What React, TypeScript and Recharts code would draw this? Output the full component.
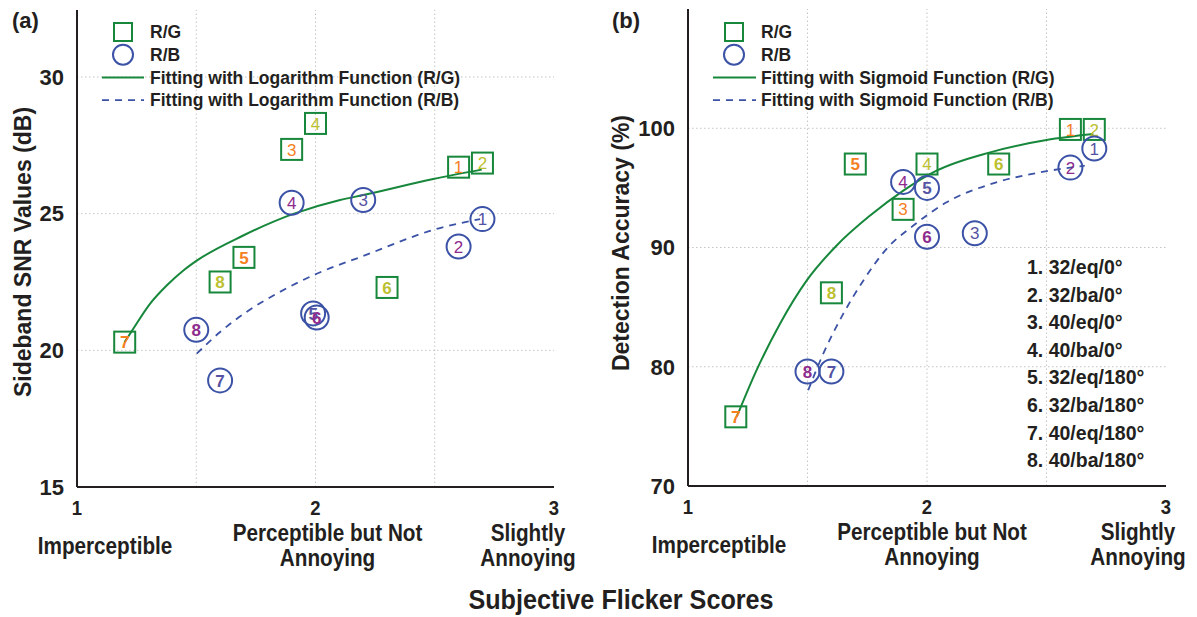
import { ComposedChart, Scatter, Line, XAxis, YAxis, ReferenceLine } from "recharts";

// ---- data ----
const IDS = [1, 2, 3, 4, 5, 6, 7, 8];

// (a) sideband SNR
const RG_SNR_X = [2.6, 2.7, 1.9, 2.0, 1.7, 2.3, 1.2, 1.6];
const RG_SNR_Y = [26.7, 26.85, 27.35, 28.3, 23.4, 22.3, 20.3, 22.5];
const RB_SNR_X = [2.7, 2.6, 2.2, 1.9, 1.99, 2.005, 1.6, 1.5];
const RB_SNR_Y = [24.8, 23.8, 25.5, 25.4, 21.35, 21.2, 18.9, 20.75];
const LOG_RG_X = [1.2, 1.236, 1.306, 1.376, 1.446, 1.502, 1.697, 1.907, 2.103, 2.2, 2.494, 2.697];
const LOG_RG_Y = [20.3, 20.79, 21.7, 22.37, 22.92, 23.28, 24.2, 24.99, 25.5, 25.68, 26.27, 26.61];
const LOG_RB_X = [1.502, 1.6, 1.71, 1.837, 2.005, 2.2, 2.508, 2.69];
const LOG_RB_Y = [19.88, 20.67, 21.4, 22.07, 22.8, 23.45, 24.44, 24.8];

// (b) detection accuracy
const RG_ACC_X = [2.6, 2.7, 1.9, 2.0, 1.7, 2.3, 1.2, 1.6];
const RG_ACC_Y = [99.9, 99.9, 93.2, 97.0, 97.0, 97.0, 75.8, 86.2];
const RB_ACC_X = [2.7, 2.6, 2.2, 1.9, 2.0, 2.0, 1.6, 1.5];
const RB_ACC_Y = [98.3, 96.7, 91.2, 95.5, 95.0, 90.9, 79.6, 79.6];
const SIG_RG_X = [1.204, 1.287, 1.385, 1.497, 1.622, 1.762, 1.901, 2.04, 2.264, 2.5, 2.696];
const SIG_RG_Y = [75.8, 79.71, 83.61, 87.24, 90.17, 92.68, 94.77, 96.44, 97.98, 99.01, 99.51];
const SIG_RB_X = [1.503, 1.566, 1.65, 1.734, 1.831, 1.943, 2.082, 2.29, 2.473, 2.66];
const SIG_RB_Y = [78.03, 81.1, 84.45, 87.24, 89.89, 91.84, 93.79, 95.46, 96.3, 96.86];

const X_TICKS = [1, 2, 3];
const X_MINOR = [1.5, 2.5];
const X_GRID = [1.5, 2, 2.5];
const X_DESC = [["Imperceptible"], ["Perceptible but Not", "Annoying"], ["Slightly", "Annoying"]];
const SNR_TICKS = [15, 20, 25, 30];
const SNR_GRID = [20, 25, 30];
const ACC_TICKS = [70, 80, 90, 100];
const ACC_GRID = [80, 90, 100];

const LEGEND_A = ["R/G", "R/B", "Fitting with Logarithm Function (R/G)", "Fitting with Logarithm Function (R/B)"];
const LEGEND_B = ["R/G", "R/B", "Fitting with Sigmoid Function (R/G)", "Fitting with Sigmoid Function (R/B)"];
const CONDITIONS = [
  "1. 32/eq/0°",
  "2. 32/ba/0°",
  "3. 40/eq/0°",
  "4. 40/ba/0°",
  "5. 32/eq/180°",
  "6. 32/ba/180°",
  "7. 40/eq/180°",
  "8. 40/ba/180°",
];

const W = 1197;
const H = 617;
const GREEN = "#17873b";
const BLUE = "#3b52a6";
const ORANGE = "#f5801f";
const OLIVE = "#bcbf30";
const SLATE = "#5553a3";
const PURPLE = "#8d2a8d";
const INK = "#231f20";
const SANS = "'Liberation Sans', Arial, sans-serif";

const toPoints = (xs: number[], ys: number[]) =>
  xs.map((x, i) => ({ x, y: ys[i], id: IDS[i] }));
const toCurve = (xs: number[], ys: number[]) => xs.map((x, i) => ({ x, y: ys[i] }));

// condensed bold text (Helvetica-narrow look), squeezed horizontally
function NarrowText({ x, y, size, sx, children }: { x: number; y: number; size: number; sx: number; children: any }) {
  return (
    <text
      transform={`translate(${x},${y}) scale(${sx},1)`}
      textAnchor="middle"
      fontFamily={SANS}
      fontWeight={700}
      fontSize={size}
      fill={INK}
    >
      {children}
    </text>
  );
}

function SquareMark(props: any) {
  const { cx, cy, payload } = props;
  if (cx == null || cy == null) return null;
  const s = 21;
  return (
    <g>
      <rect x={cx - s / 2} y={cy - s / 2} width={s} height={s} fill="none" stroke={GREEN} strokeWidth={2} />
      <text
        x={cx}
        y={cy}
        dy="0.36em"
        textAnchor="middle"
        fontFamily={SANS}
        fontSize={17}
        fontWeight={payload.id >= 5 ? 700 : 400}
        fill={payload.id % 2 ? ORANGE : OLIVE}
      >
        {payload.id}
      </text>
    </g>
  );
}

function CircleMark(props: any) {
  const { cx, cy, payload } = props;
  if (cx == null || cy == null) return null;
  return (
    <g>
      <circle cx={cx} cy={cy} r={12} fill="none" stroke={BLUE} strokeWidth={2} />
      <text
        x={cx}
        y={cy}
        dy="0.36em"
        textAnchor="middle"
        fontFamily={SANS}
        fontSize={17}
        fontWeight={payload.id >= 5 ? 700 : 400}
        fill={payload.id % 2 ? SLATE : PURPLE}
      >
        {payload.id}
      </text>
    </g>
  );
}

function XTick(props: any) {
  const { x, y, payload, offsets } = props;
  const i = X_TICKS.indexOf(payload.value);
  const lines = X_DESC[i] || [];
  const dx = offsets[i] || 0;
  const single = lines.length === 1;
  return (
    <g>
      <NarrowText x={x} y={y + 28} size={21} sx={0.88}>
        {payload.value}
      </NarrowText>
      {lines.map((t: string, k: number) => (
        <NarrowText key={k} x={x + dx} y={y + (single ? 67 : 54 + k * 25)} size={23} sx={0.9}>
          {t}
        </NarrowText>
      ))}
    </g>
  );
}

interface PanelCfg {
  left: number;
  width: number;
  top: number;
  right: number;
  yAxisW: number;
  yDomain: [number, number];
  yTicks: number[];
  yGrid: number[];
  descOffsets: number[];
  rg: { x: number; y: number; id: number }[];
  rb: { x: number; y: number; id: number }[];
  fitRG: { x: number; y: number }[];
  fitRB: { x: number; y: number }[];
}

const frame = { stroke: INK, strokeWidth: 2 };

function Panel({ cfg }: { cfg: PanelCfg }) {
  const xAxisH = H - 487 + (cfg.top === 9 ? 1 : 0);
  return (
    <div style={{ position: "absolute", left: cfg.left, top: 0, width: cfg.width, height: H }}>
      <ComposedChart width={cfg.width} height={H} margin={{ top: cfg.top, right: cfg.right, bottom: 0, left: 0 }}>
        <XAxis
          xAxisId="b"
          type="number"
          dataKey="x"
          domain={[1, 3]}
          ticks={X_TICKS}
          interval={0}
          height={xAxisH}
          axisLine={frame}
          tickLine={false}
          tickSize={0}
          tickMargin={0}
          tick={(p: any) => <XTick {...p} offsets={cfg.descOffsets} />}
        />
        <XAxis xAxisId="bMaj" type="number" dataKey="x" domain={[1, 3]} ticks={[2]} mirror height={0}
          axisLine={false} tick={false} tickSize={10} tickLine={frame} />
        <XAxis xAxisId="bMin" type="number" dataKey="x" domain={[1, 3]} ticks={X_MINOR} mirror height={0}
          axisLine={false} tick={false} tickSize={5} tickLine={{ stroke: INK, strokeWidth: 1.5 }} />
        <XAxis xAxisId="t" orientation="top" type="number" dataKey="x" domain={[1, 3]} ticks={[2]} mirror height={0}
          axisLine={frame} tick={false} tickSize={9} tickLine={frame} />
        <YAxis
          yAxisId="l"
          type="number"
          dataKey="y"
          domain={cfg.yDomain}
          ticks={cfg.yTicks}
          interval={0}
          width={cfg.yAxisW}
          axisLine={frame}
          tickLine={false}
          tickMargin={7}
          tick={{ fontSize: 22, fontWeight: 700, fill: INK, fontFamily: SANS }}
        />
        <YAxis yAxisId="lm" type="number" dataKey="y" domain={cfg.yDomain} ticks={cfg.yGrid} mirror width={0}
          axisLine={false} tick={false} tickSize={9} tickLine={frame} />
        <YAxis yAxisId="r" orientation="right" type="number" dataKey="y" domain={cfg.yDomain} ticks={cfg.yGrid} mirror width={0}
          axisLine={frame} tick={false} tickSize={9} tickLine={frame} />

        {X_GRID.map((v) => (
          <ReferenceLine key={`gx${v}`} xAxisId="b" yAxisId="l" x={v} stroke="#c4c4c4" strokeDasharray="1.5 2.5" />
        ))}
        {cfg.yGrid.map((v) => (
          <ReferenceLine key={`gy${v}`} xAxisId="b" yAxisId="l" y={v} stroke="#c4c4c4" strokeDasharray="1.5 2.5" />
        ))}

        <Line xAxisId="b" yAxisId="l" data={cfg.fitRG} dataKey="y" type="monotone" stroke={GREEN}
          strokeWidth={2} dot={false} activeDot={false} isAnimationActive={false} />
        <Line xAxisId="b" yAxisId="l" data={cfg.fitRB} dataKey="y" type="monotone" stroke={BLUE}
          strokeWidth={1.8} strokeDasharray="7 6" dot={false} activeDot={false} isAnimationActive={false} />
        <Scatter xAxisId="b" yAxisId="l" data={cfg.rg} shape={SquareMark} isAnimationActive={false} />
        <Scatter xAxisId="b" yAxisId="l" data={cfg.rb} shape={CircleMark} isAnimationActive={false} />
      </ComposedChart>
    </div>
  );
}

function LegendBlock({ rows, mx, tx, lx1, lx2 }: { rows: string[]; mx: number; tx: number; lx1: number; lx2: number }) {
  const ys = rows.map((_, i) => 32 + i * 22.7);
  return (
    <g>
      <rect x={mx - 9} y={ys[0] - 9} width={18} height={18} fill="none" stroke={GREEN} strokeWidth={2} />
      <circle cx={mx} cy={ys[1]} r={10} fill="none" stroke={BLUE} strokeWidth={2} />
      <line x1={lx1} x2={lx2} y1={ys[2]} y2={ys[2]} stroke={GREEN} strokeWidth={2} />
      <line x1={lx1} x2={lx2} y1={ys[3]} y2={ys[3]} stroke={BLUE} strokeWidth={1.8} strokeDasharray="7 6" />
      {rows.map((t, i) => (
        <text key={t} x={tx} y={ys[i]} dy="0.36em" fontSize={17.5} fontWeight={700} fill={INK} fontFamily={SANS}>
          {t}
        </text>
      ))}
    </g>
  );
}

export default function App() {
  const panelA: PanelCfg = {
    left: 0,
    width: 600,
    top: 10,
    right: 46,
    yAxisW: 77,
    yDomain: [15, 32.45],
    yTicks: SNR_TICKS,
    yGrid: SNR_GRID,
    descOffsets: [28, 12, -26],
    rg: toPoints(RG_SNR_X, RG_SNR_Y),
    rb: toPoints(RB_SNR_X, RB_SNR_Y),
    fitRG: toCurve(LOG_RG_X, LOG_RG_Y),
    fitRB: toCurve(LOG_RB_X, LOG_RB_Y),
  };
  const panelB: PanelCfg = {
    left: 600,
    width: 597,
    top: 9,
    right: 31,
    yAxisW: 88,
    yDomain: [70, 110],
    yTicks: ACC_TICKS,
    yGrid: ACC_GRID,
    descOffsets: [31, 5, -28],
    rg: toPoints(RG_ACC_X, RG_ACC_Y),
    rb: toPoints(RB_ACC_X, RB_ACC_Y),
    fitRG: toCurve(SIG_RG_X, SIG_RG_Y),
    fitRB: toCurve(SIG_RB_X, SIG_RB_Y),
  };

  return (
    <div style={{ position: "absolute", left: 0, top: 0, width: W, height: H, background: "#fff", fontFamily: SANS }}>
      <Panel cfg={panelA} />
      <Panel cfg={panelB} />
      <svg width={W} height={H} style={{ position: "absolute", left: 0, top: 0, pointerEvents: "none" }}>
        <text x={12} y={28} fontSize={22} fontWeight={700} fill={INK} fontFamily={SANS}>(a)</text>
        <text x={612} y={28} fontSize={22} fontWeight={700} fill={INK} fontFamily={SANS}>(b)</text>
        <text transform="translate(31,252) rotate(-90)" textAnchor="middle" fontSize={23} fontWeight={700} fill={INK} fontFamily={SANS}>
          Sideband SNR Values (dB)
        </text>
        <text transform="translate(629,243) rotate(-90)" textAnchor="middle" fontSize={23} fontWeight={700} fill={INK} fontFamily={SANS}>
          Detection Accuracy (%)
        </text>
        <NarrowText x={621} y={609} size={28} sx={0.9}>
          Subjective Flicker Scores
        </NarrowText>
        <LegendBlock rows={LEGEND_A} mx={123} tx={150} lx1={102} lx2={144} />
        <LegendBlock rows={LEGEND_B} mx={734} tx={761} lx1={713} lx2={756} />
        {CONDITIONS.map((t, i) => (
          <text key={t} x={1027} y={267 + i * 27.6} dy="0.36em" fontSize={19.5} fontWeight={700} fill={INK} fontFamily={SANS}>
            {t}
          </text>
        ))}
      </svg>
    </div>
  );
}
